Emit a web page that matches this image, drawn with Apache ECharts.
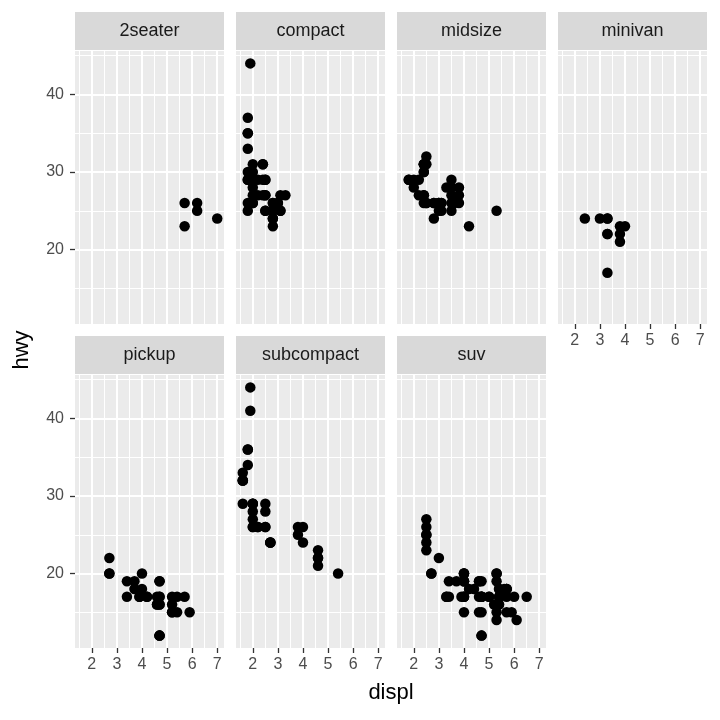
<!DOCTYPE html>
<html>
<head>
<meta charset="utf-8">
<script src="https://cdn.jsdelivr.net/npm/echarts@6/dist/echarts.min.js"></script>
<style>
  html, body { margin: 0; padding: 0; background: #fff; }
  #chart { width: 720px; height: 720px; }
</style>
</head>
<body>
<div id="chart"></div>
<script>
// facet names, in panel order
var classes = ['2seater', 'compact', 'midsize', 'minivan', 'pickup', 'subcompact', 'suv'];

// displ / hwy per class
var displ2seater = [5.7, 5.7, 6.2, 6.2, 7.0];
var hwy2seater   = [26, 23, 26, 25, 24];

var displCompact = [1.8, 1.8, 2.0, 2.0, 2.8, 2.8, 3.1, 1.8, 1.8, 2.0, 2.0, 2.8, 2.8, 3.1, 3.1,
  2.4, 2.4, 2.5, 2.5, 2.5, 2.5, 2.2, 2.2, 2.4, 2.4, 3.0, 3.0, 3.3,
  1.8, 1.8, 1.8, 1.8, 1.8, 2.0, 2.0, 2.0, 2.0, 2.8,
  1.9, 2.0, 2.0, 2.0, 2.0, 2.5, 2.5, 2.8, 2.8];
var hwyCompact = [29, 29, 31, 30, 26, 26, 27, 26, 25, 28, 27, 25, 25, 25, 25,
  29, 27, 25, 27, 25, 27, 27, 29, 31, 31, 26, 26, 27,
  30, 33, 35, 37, 35, 29, 26, 29, 29, 24,
  44, 29, 26, 29, 29, 29, 29, 23, 24];

var displMidsize = [2.8, 3.1, 4.2, 2.4, 2.4, 3.1, 3.5, 3.6,
  2.4, 2.4, 2.4, 2.4, 2.5, 2.5, 3.3, 2.5, 2.5, 3.5, 3.5, 3.0, 3.0, 3.5,
  3.1, 3.8, 3.8, 3.8, 5.3, 2.2, 2.2, 2.4, 2.4, 3.0, 3.0, 3.5,
  1.8, 1.8, 2.0, 2.0, 2.8, 2.8, 3.6];
var hwyMidsize = [24, 25, 23, 27, 30, 26, 29, 26,
  26, 27, 30, 31, 26, 26, 28, 31, 32, 27, 26, 26, 25, 25,
  26, 26, 27, 28, 25, 29, 27, 31, 31, 26, 26, 28,
  29, 29, 28, 29, 26, 26, 26];

var displMinivan = [2.4, 3.0, 3.3, 3.3, 3.3, 3.3, 3.3, 3.8, 3.8, 3.8, 4.0];
var hwyMinivan   = [24, 24, 22, 22, 24, 24, 17, 22, 21, 23, 23];

var displPickup = [3.7, 3.7, 3.9, 3.9, 4.7, 4.7, 4.7, 5.2, 5.2,
  4.7, 4.7, 4.7, 4.7, 4.7, 4.7, 5.2, 5.2, 5.7, 5.9,
  4.2, 4.2, 4.6, 4.6, 4.6, 5.4, 5.4,
  2.7, 2.7, 2.7, 3.4, 3.4, 4.0, 4.0];
var hwyPickup = [19, 18, 17, 17, 19, 19, 12, 17, 15,
  16, 12, 17, 17, 16, 12, 15, 16, 17, 15,
  17, 17, 16, 16, 17, 15, 17,
  20, 20, 22, 17, 19, 18, 20];

var displSubcompact = [3.8, 3.8, 4.0, 4.0, 4.6, 4.6, 4.6, 4.6, 5.4,
  1.6, 1.6, 1.6, 1.6, 1.6, 1.8, 1.8, 1.8, 2.0,
  2.0, 2.0, 2.0, 2.0, 2.7, 2.7, 2.7,
  2.2, 2.2, 2.5, 2.5, 1.9, 1.9, 2.0, 2.0, 2.5, 2.5];
var hwySubcompact = [26, 25, 26, 24, 21, 22, 23, 22, 20,
  33, 32, 32, 29, 32, 34, 36, 36, 29,
  26, 29, 28, 27, 24, 24, 24,
  26, 26, 26, 26, 44, 41, 29, 26, 28, 29];

var displSuv = [5.3, 5.3, 5.3, 5.7, 6.0, 5.3, 5.3, 5.7, 6.5,
  3.9, 4.7, 4.7, 4.7, 5.2, 5.7, 5.9,
  4.6, 5.4, 5.4, 4.0, 4.0, 4.0, 4.0, 4.6, 5.0,
  3.0, 3.7, 4.0, 4.7, 4.7, 4.7, 5.7, 6.1,
  4.0, 4.2, 4.4, 4.6, 5.4, 5.4, 5.4,
  4.0, 4.0, 4.6, 5.0, 3.3, 3.3, 4.0, 5.6,
  2.5, 2.5, 2.5, 2.5, 2.5, 2.5,
  2.7, 2.7, 3.4, 3.4, 4.0, 4.7, 4.7, 5.7];
var hwySuv = [20, 15, 20, 17, 17, 19, 14, 15, 17,
  17, 17, 12, 17, 16, 18, 15,
  17, 17, 18, 17, 19, 17, 19, 19, 17,
  22, 19, 20, 17, 12, 19, 18, 14,
  15, 18, 18, 15, 17, 16, 18,
  17, 19, 19, 17, 17, 17, 20, 18,
  25, 24, 27, 25, 26, 23,
  20, 20, 19, 17, 20, 17, 15, 18];

var displByClass = [displ2seater, displCompact, displMidsize, displMinivan, displPickup, displSubcompact, displSuv];
var hwyByClass = [hwy2seater, hwyCompact, hwyMidsize, hwyMinivan, hwyPickup, hwySubcompact, hwySuv];

// ticks and grid breaks
var xTicks = [2, 3, 4, 5, 6, 7];
var xMinor = [1.5, 2.5, 3.5, 4.5, 5.5, 6.5];
var yTicks = [20, 30, 40];
var yMinor = [15, 25, 35, 45];

var colLeft = [75, 236, 397, 558];
var rowTop = [51, 375];
var panelW = 149, panelH = 273, stripH = 38;

var grids = [], xAxes = [], yAxes = [], series = [], graphics = [];

classes.forEach(function (name, i) {
  var col = i % 4, row = Math.floor(i / 4);
  var showX = (row === 1) || (i === 3);
  var showY = (col === 0);
  grids.push({
    left: colLeft[col], top: rowTop[row], width: panelW, height: panelH,
    show: true, backgroundColor: '#EBEBEB', borderWidth: 0
  });
  xAxes.push({
    gridIndex: i, type: 'value', min: 1.33, max: 7.27,
    axisLine: { show: false },
    splitLine: { show: false },
    axisTick: { show: showX, customValues: xTicks, length: 5, lineStyle: { color: '#333333', width: 1.3 } },
    axisLabel: { show: showX, customValues: xTicks, color: '#4D4D4D', fontSize: 16, margin: 9, fontFamily: 'Liberation Sans' }
  });
  yAxes.push({
    gridIndex: i, type: 'value', min: 10.4, max: 45.6,
    axisLine: { show: false },
    splitLine: { show: false },
    axisTick: { show: showY, customValues: yTicks, length: 5, lineStyle: { color: '#333333', width: 1.3 } },
    axisLabel: { show: showY, customValues: yTicks, color: '#4D4D4D', fontSize: 16, margin: 11, fontFamily: 'Liberation Sans' }
  });

  var gridLines = [];
  xMinor.forEach(function (v) { gridLines.push({ xAxis: v, lineStyle: { width: 1 } }); });
  yMinor.forEach(function (v) { gridLines.push({ yAxis: v, lineStyle: { width: 1 } }); });
  xTicks.forEach(function (v) { gridLines.push({ xAxis: v, lineStyle: { width: 2 } }); });
  yTicks.forEach(function (v) { gridLines.push({ yAxis: v, lineStyle: { width: 2 } }); });

  var pts = displByClass[i].map(function (d, k) { return [d, hwyByClass[i][k]]; });
  series.push({
    name: name, type: 'scatter', xAxisIndex: i, yAxisIndex: i,
    data: pts, symbolSize: 10.5, z: 3,
    itemStyle: { color: '#000000', opacity: 1 },
    markLine: {
      z: 1, silent: true, symbol: ['none', 'none'], animation: false,
      label: { show: false },
      lineStyle: { color: '#FFFFFF', type: 'solid' },
      emphasis: { disabled: true },
      data: gridLines
    }
  });

  graphics.push({
    type: 'rect', left: colLeft[col], top: rowTop[row] - stripH - 1,
    shape: { width: panelW, height: stripH },
    style: { fill: '#D9D9D9' }
  });
  graphics.push({
    type: 'text', x: colLeft[col] + panelW / 2, y: rowTop[row] - 1 - stripH / 2,
    style: { text: name, fill: '#1A1A1A', fontSize: 18, fontFamily: 'Liberation Sans',
      textAlign: 'center', textVerticalAlign: 'middle' }
  });
});

graphics.push({
  type: 'text', x: 22, y: 350, rotation: Math.PI / 2,
  style: { text: 'hwy', fill: '#000000', fontSize: 22, fontFamily: 'Liberation Sans',
    textAlign: 'center', textVerticalAlign: 'middle' }
});
graphics.push({
  type: 'text', x: 391, y: 693,
  style: { text: 'displ', fill: '#000000', fontSize: 22, fontFamily: 'Liberation Sans',
    textAlign: 'center', textVerticalAlign: 'middle' }
});

var chart = echarts.init(document.getElementById('chart'));
chart.setOption({
  animation: false,
  backgroundColor: '#FFFFFF',
  grid: grids,
  xAxis: xAxes,
  yAxis: yAxes,
  series: series,
  graphic: graphics
});
</script>
</body>
</html>
